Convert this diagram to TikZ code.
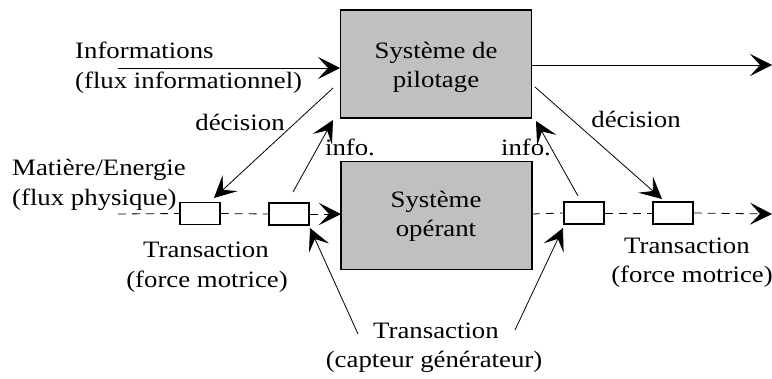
\documentclass[tikz,border=0pt]{standalone}
\usepackage{fontspec}
\setmainfont{Liberation Serif}[FakeStretch=1.14]
\usetikzlibrary{arrows.meta}
\definecolor{boxgray}{HTML}{C0C0C0}
\begin{document}
\begin{tikzpicture}[x=1pt,y=-1pt,
  bigbox/.style={draw,line width=1.4pt,fill=boxgray,minimum width=191pt,minimum height=108pt,inner sep=0pt},
  smallbox/.style={draw,line width=1.4pt,fill=white,minimum width=40pt,minimum height=22pt,inner sep=0pt},
  lbl/.style={font=\fontsize{23.5}{30}\selectfont,inner sep=0pt,anchor=base},
  tip/.tip={Stealth[length=22pt,width=22pt,inset=10pt]},
  arr/.style={line width=0.8pt,-tip},
  flow/.style={line width=0.8pt,dash pattern=on 8pt off 6pt},
  plain/.style={line width=0.8pt}]
\useasboundingbox (0,0) rectangle (772,378);
% boxes
\node[bigbox] (pilot) at (436,64) {};
\node[bigbox] (oper) at (436.5,215.5) {};
\node[smallbox] (b1) at (200,213.5) {};
\node[smallbox] (b2) at (289,214) {};
\node[smallbox] (b3) at (584,213) {};
\node[smallbox] (b4) at (673,213) {};
% texts
\node[lbl] (tp1) at (436,58) {Système de};
\node[lbl] (tp2) at (436,87) {pilotage};
\node[lbl] (to1) at (436,207) {Système};
\node[lbl] (to2) at (436,236) {opérant};
\node[lbl,anchor=base west] (ti1) at (75,58) {Informations};
\node[lbl,anchor=base west] (ti2) at (75,88) {(flux informationnel)};
\node[lbl,anchor=base west] (tm1) at (12,175) {Matière/Energie};
\node[lbl,anchor=base west] (tm2) at (12,205) {(flux physique)};
\node[lbl] (td1) at (240,130) {décision};
\node[lbl] (td2) at (636,127) {décision};
\node[lbl] (tf1) at (350,155) {info.};
\node[lbl] (tf2) at (526,155) {info.};
\node[lbl] (tt1) at (206,257) {Transaction};
\node[lbl] (tt2) at (207,287) {(force motrice)};
\node[lbl] (tr1) at (687,253) {Transaction};
\node[lbl] (tr2) at (692,282) {(force motrice)};
\node[lbl] (tc1) at (436,338) {Transaction};
\node[lbl] (tc2) at (434,367) {(capteur générateur)};
% coordinates
\coordinate (iin) at (118,68);
\coordinate (iend) at (340,68);
\coordinate (outs) at (532,65);
\coordinate (oute) at (772,65);
\coordinate (fl0) at (118,214);
\coordinate (flin) at (341,214);
\coordinate (flout) at (532,214);
\coordinate (flend) at (772,214);
\coordinate (dls) at (333,88);
\coordinate (dle) at (214,198);
\coordinate (ils) at (293,192);
\coordinate (ile) at (333,120);
\coordinate (irs) at (578,196);
\coordinate (ire) at (536,121);
\coordinate (drs) at (535,87);
\coordinate (dre) at (662,199);
\coordinate (cls) at (358,334);
\coordinate (cle) at (310,228);
\coordinate (crs) at (515,330);
\coordinate (cre) at (563,228);
% connectors
\draw[arr] (iin) -- (iend);
\draw[arr] (outs) -- (oute);
\draw[flow] (fl0) -- (b1.west);
\draw[flow] (b1.east) -- (b2.west);
\draw[flow,-tip] (b2.east) -- (flin);
\draw[flow] (flout) -- (b3.west);
\draw[flow] (b3.east) -- (b4.west);
\draw[flow,-tip] (b4.east) -- (flend);
\draw[arr] (dls) -- (dle);
\draw[arr] (ils) -- (ile);
\draw[arr] (irs) -- (ire);
\draw[arr] (drs) -- (dre);
\draw[arr] (cls) -- (cle);
\draw[arr] (crs) -- (cre);
\end{tikzpicture}
\end{document}
